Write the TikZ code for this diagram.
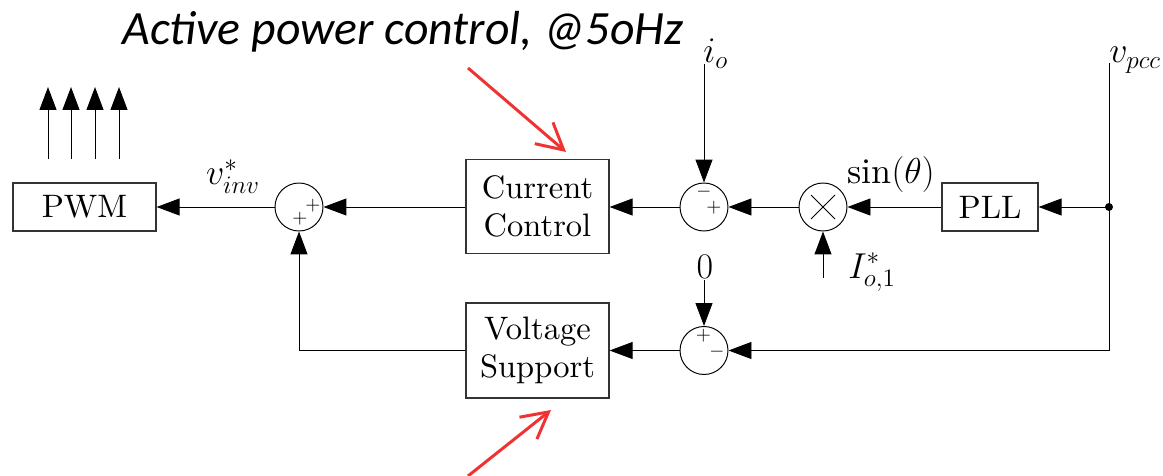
\RequirePackage{fix-cm}
\documentclass[tikz,border=0pt]{standalone}
\usepackage{fontspec}
\setmainfont{lmroman10-regular.otf}[ItalicFont=lmroman10-italic.otf,BoldFont=lmroman10-bold.otf]
\newfontfamily\titlefont{Carlito}
\usetikzlibrary{arrows.meta}
\definecolor{notered}{RGB}{240,50,50}
\begin{document}
\begin{tikzpicture}[x=0.02cm,y=-0.02cm,
  every node/.style={font=\fontsize{18.5}{22}\selectfont},
  blk/.style={draw=black!80,line width=0.7pt,inner sep=0pt,align=center},
  sumc/.style={draw,circle,minimum size=0.96cm,inner sep=0pt,line width=0.55pt},
  sig/.style={line width=0.55pt,-{Triangle[length=0.46cm,width=0.34cm]}},
  wire/.style={line width=0.55pt},
  sgn/.style={font=\fontsize{11}{13}\selectfont,inner sep=0pt},
  lbl/.style={inner sep=0pt,font=\fontsize{20.5}{24}\selectfont},
  note/.style={draw=notered,line width=1.7pt,-{Straight Barb[length=0.52cm,width=0.56cm]}}]
\useasboundingbox (0,0) rectangle (1163,476);

% blocks
\node[blk,minimum width=2.86cm,minimum height=0.96cm] (pwm) at (84.5,207) {PWM};
\node[sumc] (s1) at (299,207) {};
\node[blk,minimum width=2.86cm,minimum height=1.88cm] (cc) at (537.5,206.5) {Current\\Control};
\node[sumc] (s2) at (704,207) {};
\node[sumc] (mx) at (823,207) {};
\node[blk,minimum width=1.92cm,minimum height=0.96cm] (pll) at (990,207) {PLL};
\node[blk,minimum width=2.86cm,minimum height=1.9cm] (vs) at (537.5,350.5) {Voltage\\Support};
\node[sumc] (s3) at (704,350.5) {};

% multiplier cross
\draw[wire] (mx.center) ++(-12,-12) -- ++(24,24);
\draw[wire] (mx.center) ++(-12,12) -- ++(24,-24);

% signs
\node[sgn] (s1a) at (313,206) {$+$};
\node[sgn] (s1b) at (300,219) {$+$};
\node[sgn] (s2a) at (704,192) {$-$};
\node[sgn] (s2b) at (714,208) {$+$};
\node[sgn] (s3a) at (703.5,335.5) {$+$};
\node[sgn] (s3b) at (717,352) {$-$};

% coordinates
\coordinate (dot) at (1109,207);
\coordinate (vt) at (1109,63);
\coordinate (vb) at (1109,350.5);
\coordinate (io) at (704,64);
\coordinate (zr) at (704,280);
\coordinate (ir) at (823,278);

% connectors
\draw[sig] (s1.west) -- (pwm.east);
\draw[sig] (cc.west |- s1) -- (s1.east);
\draw[sig] (s2.west) -- (cc.east |- s2);
\draw[sig] (mx.west) -- (s2.east);
\draw[sig] (pll.west) -- (mx.east);
\draw[sig] (dot) -- (pll.east);
\draw[wire] (vt) -- (vb);
\fill (dot) circle (0.08cm);
\draw[sig] (vb) -- (s3.east);
\draw[sig] (s3.west) -- (vs.east);
\draw[sig] (vs.west) -| (s1.south);
\draw[sig] (io) -- (s2.north);
\draw[sig] (zr) -- (s3.north);
\draw[sig] (ir) -- (mx.south);
\foreach \x in {48,71,95,119} {\draw[sig] (\x,159) -- (\x,87);}

% labels
\node[lbl,anchor=base] (lv) at (233,185) {$v^*_{inv}$};
\node[lbl,anchor=base west] (lio) at (703,63) {$i_o$};
\node[lbl,anchor=base west] (lvp) at (1109,63) {$v_{pcc}$};
\node[lbl,anchor=base west] (lsin) at (847,184) {$\sin(\theta)$};
\node[lbl,anchor=base] (lz) at (705,278) {$0$};
\node[lbl,anchor=base west] (lI) at (848,278) {$I^*_{o,1}$};

% title and notes
\node[inner sep=0pt,anchor=base west,font=\titlefont\itshape\fontsize{27.2}{31}\selectfont] (title) at (122,45) {Active power control, @5oHz};
\coordinate (n1s) at (468,68);
\coordinate (n1e) at (566,152);
\coordinate (n2s) at (468,476);
\coordinate (n2e) at (551,410);
\draw[note] (n1s) -- (n1e);
\draw[note] (n2s) -- (n2e);
\end{tikzpicture}
\end{document}
